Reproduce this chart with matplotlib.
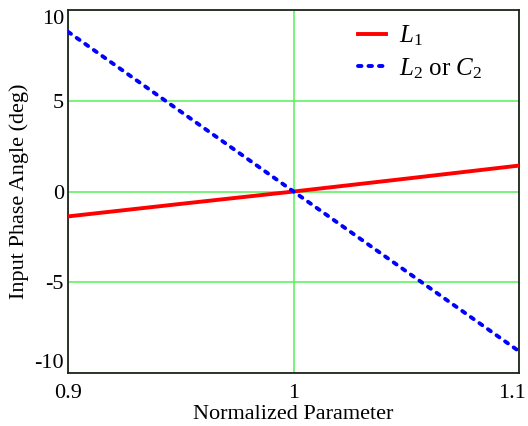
import numpy as np
import matplotlib
matplotlib.use("Agg")
import matplotlib.pyplot as plt
import matplotlib.transforms as mtransforms

plt.rcParams['font.family'] = ['Liberation Serif', 'DejaVu Serif']
plt.rcParams['mathtext.fontset'] = 'custom'
plt.rcParams['mathtext.rm'] = 'Liberation Serif'
plt.rcParams['mathtext.it'] = 'Liberation Serif:italic'
plt.rcParams['axes.unicode_minus'] = False

# values
x = [0.9, 0.95, 1.0, 1.05, 1.1]
phase_L1 = [-1.37, -0.68, 0.0, 0.71, 1.43]
phase_L2C2 = [8.8, 4.4, 0.0, -4.4, -8.8]
xticks = [0.9, 1.0, 1.1]
xticklabels = ["0.9", "1", "1.1"]
yticks = [-10, -5, 0, 5, 10]
yticklabels = ["-10", "-5", "0", "5", "10"]

fig = plt.figure(figsize=(5.28, 4.26), dpi=100)
ax = fig.add_axes([0.129, 0.1244, 0.854, 0.852])

ax.plot(x, phase_L1, color="#ff0000", lw=2.8, label="$L_1$", zorder=3)
ax.plot(x, phase_L2C2, color="#0000ff", lw=2.8, dashes=(0.9, 1.8),
        dash_capstyle="round", label="$L_2$ or $C_2$", zorder=3)

ax.set_xlim(0.9, 1.1)
ax.set_ylim(-10, 10)
ax.set_xticks(xticks)
ax.set_xticklabels(xticklabels)
ax.set_yticks(yticks)
ax.set_yticklabels(yticklabels)
ax.tick_params(length=0, labelsize=16)
ax.tick_params(axis="x", pad=8)
ax.tick_params(axis="y", pad=3)
ylab = ax.get_yticklabels()
ylab[0].set_verticalalignment("bottom")
ylab[-1].set_verticalalignment("top")
xlab = ax.get_xticklabels()
xlab[-1].set_horizontalalignment("right")
xlab[-1].set_transform(xlab[-1].get_transform() +
                       mtransforms.ScaledTranslation(0.07, 0, fig.dpi_scale_trans))

ax.grid(True, color="#55f055", lw=1.1)
ax.set_axisbelow(True)
for s in ax.spines.values():
    s.set_color("#222222")
    s.set_linewidth(1.3)

ax.set_xlabel("Normalized Parameter", fontsize=16, labelpad=1)
ax.set_ylabel("Input Phase Angle (deg)", fontsize=16, labelpad=4)

ax.legend(loc="upper left", bbox_to_anchor=(0.643, 0.963), frameon=False,
          borderaxespad=0, borderpad=0, fontsize=18, handlelength=1.1,
          handletextpad=0.55, labelspacing=0.32)

fig.savefig("out.png", dpi=100)
